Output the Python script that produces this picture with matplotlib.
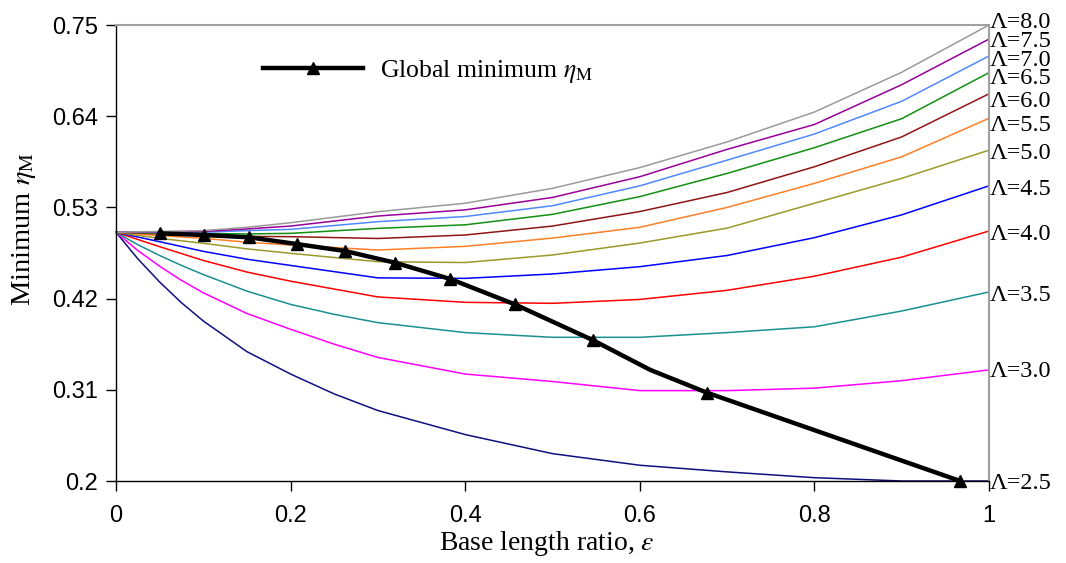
import matplotlib
matplotlib.use("Agg")
import matplotlib.pyplot as plt

plt.rcParams['mathtext.fontset'] = 'stix'

# ---------------- data ----------------
eps = [0.0, 0.05, 0.1, 0.15, 0.2, 0.3, 0.4, 0.5, 0.6, 0.7, 0.8, 0.9, 1.0]
eps_fine = [0.0, 0.025, 0.05, 0.075, 0.1, 0.15, 0.2, 0.25, 0.3, 0.4, 0.5, 0.6, 0.7, 0.8, 0.9, 1.0]

lambdas = ["2.5", "3.0", "3.5", "4.0", "4.5", "5.0", "5.5", "6.0", "6.5", "7.0", "7.5", "8.0"]

# the three steepest curves are read on the finer grid
eta_2_5 = [0.5, 0.468, 0.440, 0.415, 0.393, 0.356, 0.329, 0.305, 0.285, 0.256, 0.233, 0.219, 0.211, 0.204, 0.200, 0.200]
eta_3_0 = [0.5, 0.478, 0.459, 0.442, 0.427, 0.402, 0.383, 0.365, 0.349, 0.329, 0.320, 0.309, 0.309, 0.312, 0.321, 0.334]
eta_3_5 = [0.5, 0.485, 0.472, 0.460, 0.449, 0.429, 0.413, 0.401, 0.391, 0.379, 0.3733, 0.3733, 0.379, 0.386, 0.405, 0.428]
# the others on the regular grid
eta_4_0 = [0.5, 0.4826, 0.466, 0.452, 0.441, 0.422, 0.4155, 0.4143, 0.419, 0.430, 0.447, 0.470, 0.5015]
eta_4_5 = [0.5, 0.4886, 0.477, 0.4675, 0.460, 0.445, 0.4444, 0.4497, 0.4585, 0.472, 0.4935, 0.521, 0.556]
eta_5_0 = [0.5, 0.4927, 0.4867, 0.480, 0.4746, 0.4645, 0.4635, 0.4726, 0.487, 0.505, 0.535, 0.565, 0.599]
eta_5_5 = [0.5, 0.496, 0.4927, 0.488, 0.4846, 0.4786, 0.483, 0.493, 0.506, 0.530, 0.559, 0.591, 0.6375]
eta_6_0 = [0.5, 0.498, 0.4967, 0.495, 0.4947, 0.4925, 0.4967, 0.5075, 0.525, 0.548, 0.579, 0.615, 0.667]
eta_6_5 = [0.5, 0.499, 0.4985, 0.498, 0.4987, 0.5047, 0.509, 0.5216, 0.543, 0.571, 0.602, 0.637, 0.6925]
eta_7_0 = [0.5, 0.500, 0.500, 0.502, 0.5035, 0.5128, 0.519, 0.532, 0.556, 0.587, 0.6185, 0.658, 0.7126]
eta_7_5 = [0.5, 0.5005, 0.501, 0.504, 0.5075, 0.5196, 0.527, 0.542, 0.567, 0.600, 0.630, 0.678, 0.733]
eta_8_0 = [0.5, 0.501, 0.502, 0.506, 0.5115, 0.5248, 0.535, 0.553, 0.578, 0.609, 0.645, 0.693, 0.750]

series = [eta_2_5, eta_3_0, eta_3_5, eta_4_0, eta_4_5, eta_5_0,
          eta_5_5, eta_6_0, eta_6_5, eta_7_0, eta_7_5, eta_8_0]

colors = ['#10107f', '#ff00ff', '#1a9090', '#ff0000', '#0000ff', '#9a9a2a',
          '#ff7f27', '#8f1515', '#119011', '#4f88ff', '#990099', '#9a9a9a']

# global minimum curve (index 9 is an unmarked knee of the line)
gm_eps = [0.0504, 0.1012, 0.1527, 0.207, 0.2623, 0.3196, 0.3830, 0.457, 0.546, 0.612, 0.677, 0.967]
gm_eta = [0.4987, 0.4967, 0.4939, 0.4858, 0.4774, 0.4633, 0.4436, 0.413, 0.370, 0.334, 0.3065, 0.200]
gm_marked = [0, 1, 2, 3, 4, 5, 6, 7, 8, 10, 11]

label_offsets_pt = [-1.5, -1.5, -2.5, -2.2, -2.5, -2.2, -4.9, -5.8, -3.9, -2.9, -1.5, 2.1]

yticks = [0.2, 0.31, 0.42, 0.53, 0.64, 0.75]
xticks = [0, 0.2, 0.4, 0.6, 0.8, 1]
xticklabels = ["0", "0.2", "0.4", "0.6", "0.8", "1"]

# ---------------- figure ----------------
fig = plt.figure(figsize=(10.66, 5.63), dpi=100)
ax = fig.add_axes([116/1066, 1 - 481/563, 873/1066, 456/563])

for vals, col in zip(series, colors):
    xs = eps_fine if len(vals) == len(eps_fine) else eps
    ax.plot(xs, vals, color=col, lw=1.1, zorder=2, clip_on=False)

ax.plot(gm_eps, gm_eta, color='black', lw=3.2, marker='^', markersize=9,
        markevery=gm_marked, zorder=5, clip_on=False,
        label=r'Global minimum $\eta_{\mathrm{M}}$')

for lam, vals, off in zip(lambdas, series, label_offsets_pt):
    ax.annotate('Λ=' + lam, xy=(1, vals[-1]), xytext=(0.3, off),
                textcoords='offset points', ha='left', va='center',
                fontsize=17.5, family='Liberation Serif', annotation_clip=False)

ax.set_xlim(0, 1)
ax.set_ylim(0.2, 0.75)
ax.set_yticks(yticks)
ax.set_yticklabels([f"{v:g}" for v in yticks])
ax.set_xticks(xticks)
ax.set_xticklabels(xticklabels)

for lab in ax.get_xticklabels() + ax.get_yticklabels():
    lab.set_family('Liberation Sans')
    lab.set_fontsize(17)

ax.tick_params(axis='both', direction='out', length=7, width=1, color='black')
ax.tick_params(axis='y', pad=6)
ax.tick_params(axis='x', pad=10)

for s in ['left', 'bottom']:
    ax.spines[s].set_color('black')
    ax.spines[s].set_linewidth(1.0)
for s in ['top', 'right']:
    ax.spines[s].set_color('#a0a0a0')
    ax.spines[s].set_linewidth(1.5)

ax.set_xlabel(r'Base length ratio, $\varepsilon$', fontsize=20, family='Liberation Serif')
ax.xaxis.set_label_coords(0.4935, -0.105)
ax.set_ylabel(r'Minimum $\eta_{\mathrm{M}}$', fontsize=20.5, family='Liberation Serif')
ax.yaxis.set_label_coords(-0.089, 0.553)

leg = ax.legend(loc='center left', bbox_to_anchor=(0.168, 0.897), frameon=False,
                borderpad=0, borderaxespad=0, handlelength=3.9, handletextpad=0.68,
                prop={'family': 'Liberation Serif', 'size': 18.5})

fig.savefig('out.png', dpi=100)
